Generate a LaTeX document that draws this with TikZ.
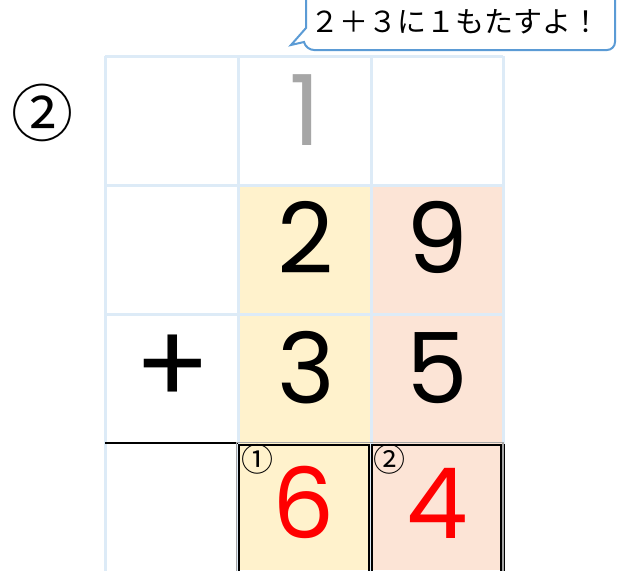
\documentclass[tikz,border=0pt]{standalone}
\usepackage{fontspec}
\setmainfont{Poppins}
\newfontfamily\jpfont{Noto Sans CJK JP}
\definecolor{gridblue}{HTML}{DDEBF7}
\definecolor{cellyel}{HTML}{FFF2CC}
\definecolor{cellsal}{HTML}{FCE4D6}
\definecolor{bubblue}{HTML}{5B9BD5}
\definecolor{carrygray}{HTML}{A6A6A6}
\tikzset{
  gridline/.style={draw=gridblue, line width=3pt},
  digit/.style={font=\fontsize{98}{98}\selectfont, inner sep=0pt, anchor=base},
  reddigit/.style={digit, text=red},
  bubble/.style={draw=bubblue, line width=2pt, fill=white},
  smallcirc/.style={font=\jpfont\fontsize{32}{32}\selectfont, inner sep=0pt, anchor=center},
  ansbox/.style={draw=black, line width=1.8pt},
}
\begin{document}
\begin{tikzpicture}[x=1pt,y=-1pt]
\useasboundingbox (0,0) rectangle (617,570);
% fills
\fill[cellyel] (238,185) rectangle (371,570);
\fill[cellsal] (371,185) rectangle (503,570);
% grid
\foreach \x in {105,238,371,503} \draw[gridline] (\x,56) -- (\x,572);
\foreach \y in {56,185,314} \draw[gridline] (105,\y) -- (503,\y);
% answer line
\draw[black, line width=2.5pt] (105,443) -- (238,443);
% answer boxes
\draw[carrygray, line width=1.5pt] (236.5,442.5) rectangle (503,575);
\draw[ansbox] (239,445) rectangle (369,575);
\draw[ansbox] (372,445) rectangle (501,575);
\draw[black, line width=1.5pt] (504.5,444) -- (504.5,575);
% left circled number
\node[font=\jpfont\fontsize{62}{62}\selectfont, inner sep=0pt, anchor=center] (step) at (42,113) {②};
% carry
\node[digit, text=carrygray] (carry) at (305,145) {1};
% digits
\node[digit] (a1) at (306,273) {2};
\node[digit] (a2) at (437,273) {9};
\node[digit] (b1) at (306,403) {3};
\node[digit] (b2) at (437,403) {5};
\node[font=\fontsize{112}{112}\selectfont, inner sep=0pt, anchor=center] (plus) at (173,370) {+};
\node[reddigit] (c1) at (304,538) {6};
\node[reddigit] (c2) at (437,538) {4};
\node[smallcirc] (n1) at (257,459) {①};
\node[smallcirc] (n2) at (389,459) {②};
% bubble
\draw[bubble, rounded corners=8pt] (306,28) -- (306,-10) -- (615,-10) -- (615,50) -- (306,50) [sharp corners] -- (304,42) -- (291,45) -- cycle;
\node[font=\jpfont\fontsize{29}{29}\selectfont, inner sep=0pt, anchor=base] (say) at (455,32) {２＋３に１もたすよ！};
\end{tikzpicture}
\end{document}
